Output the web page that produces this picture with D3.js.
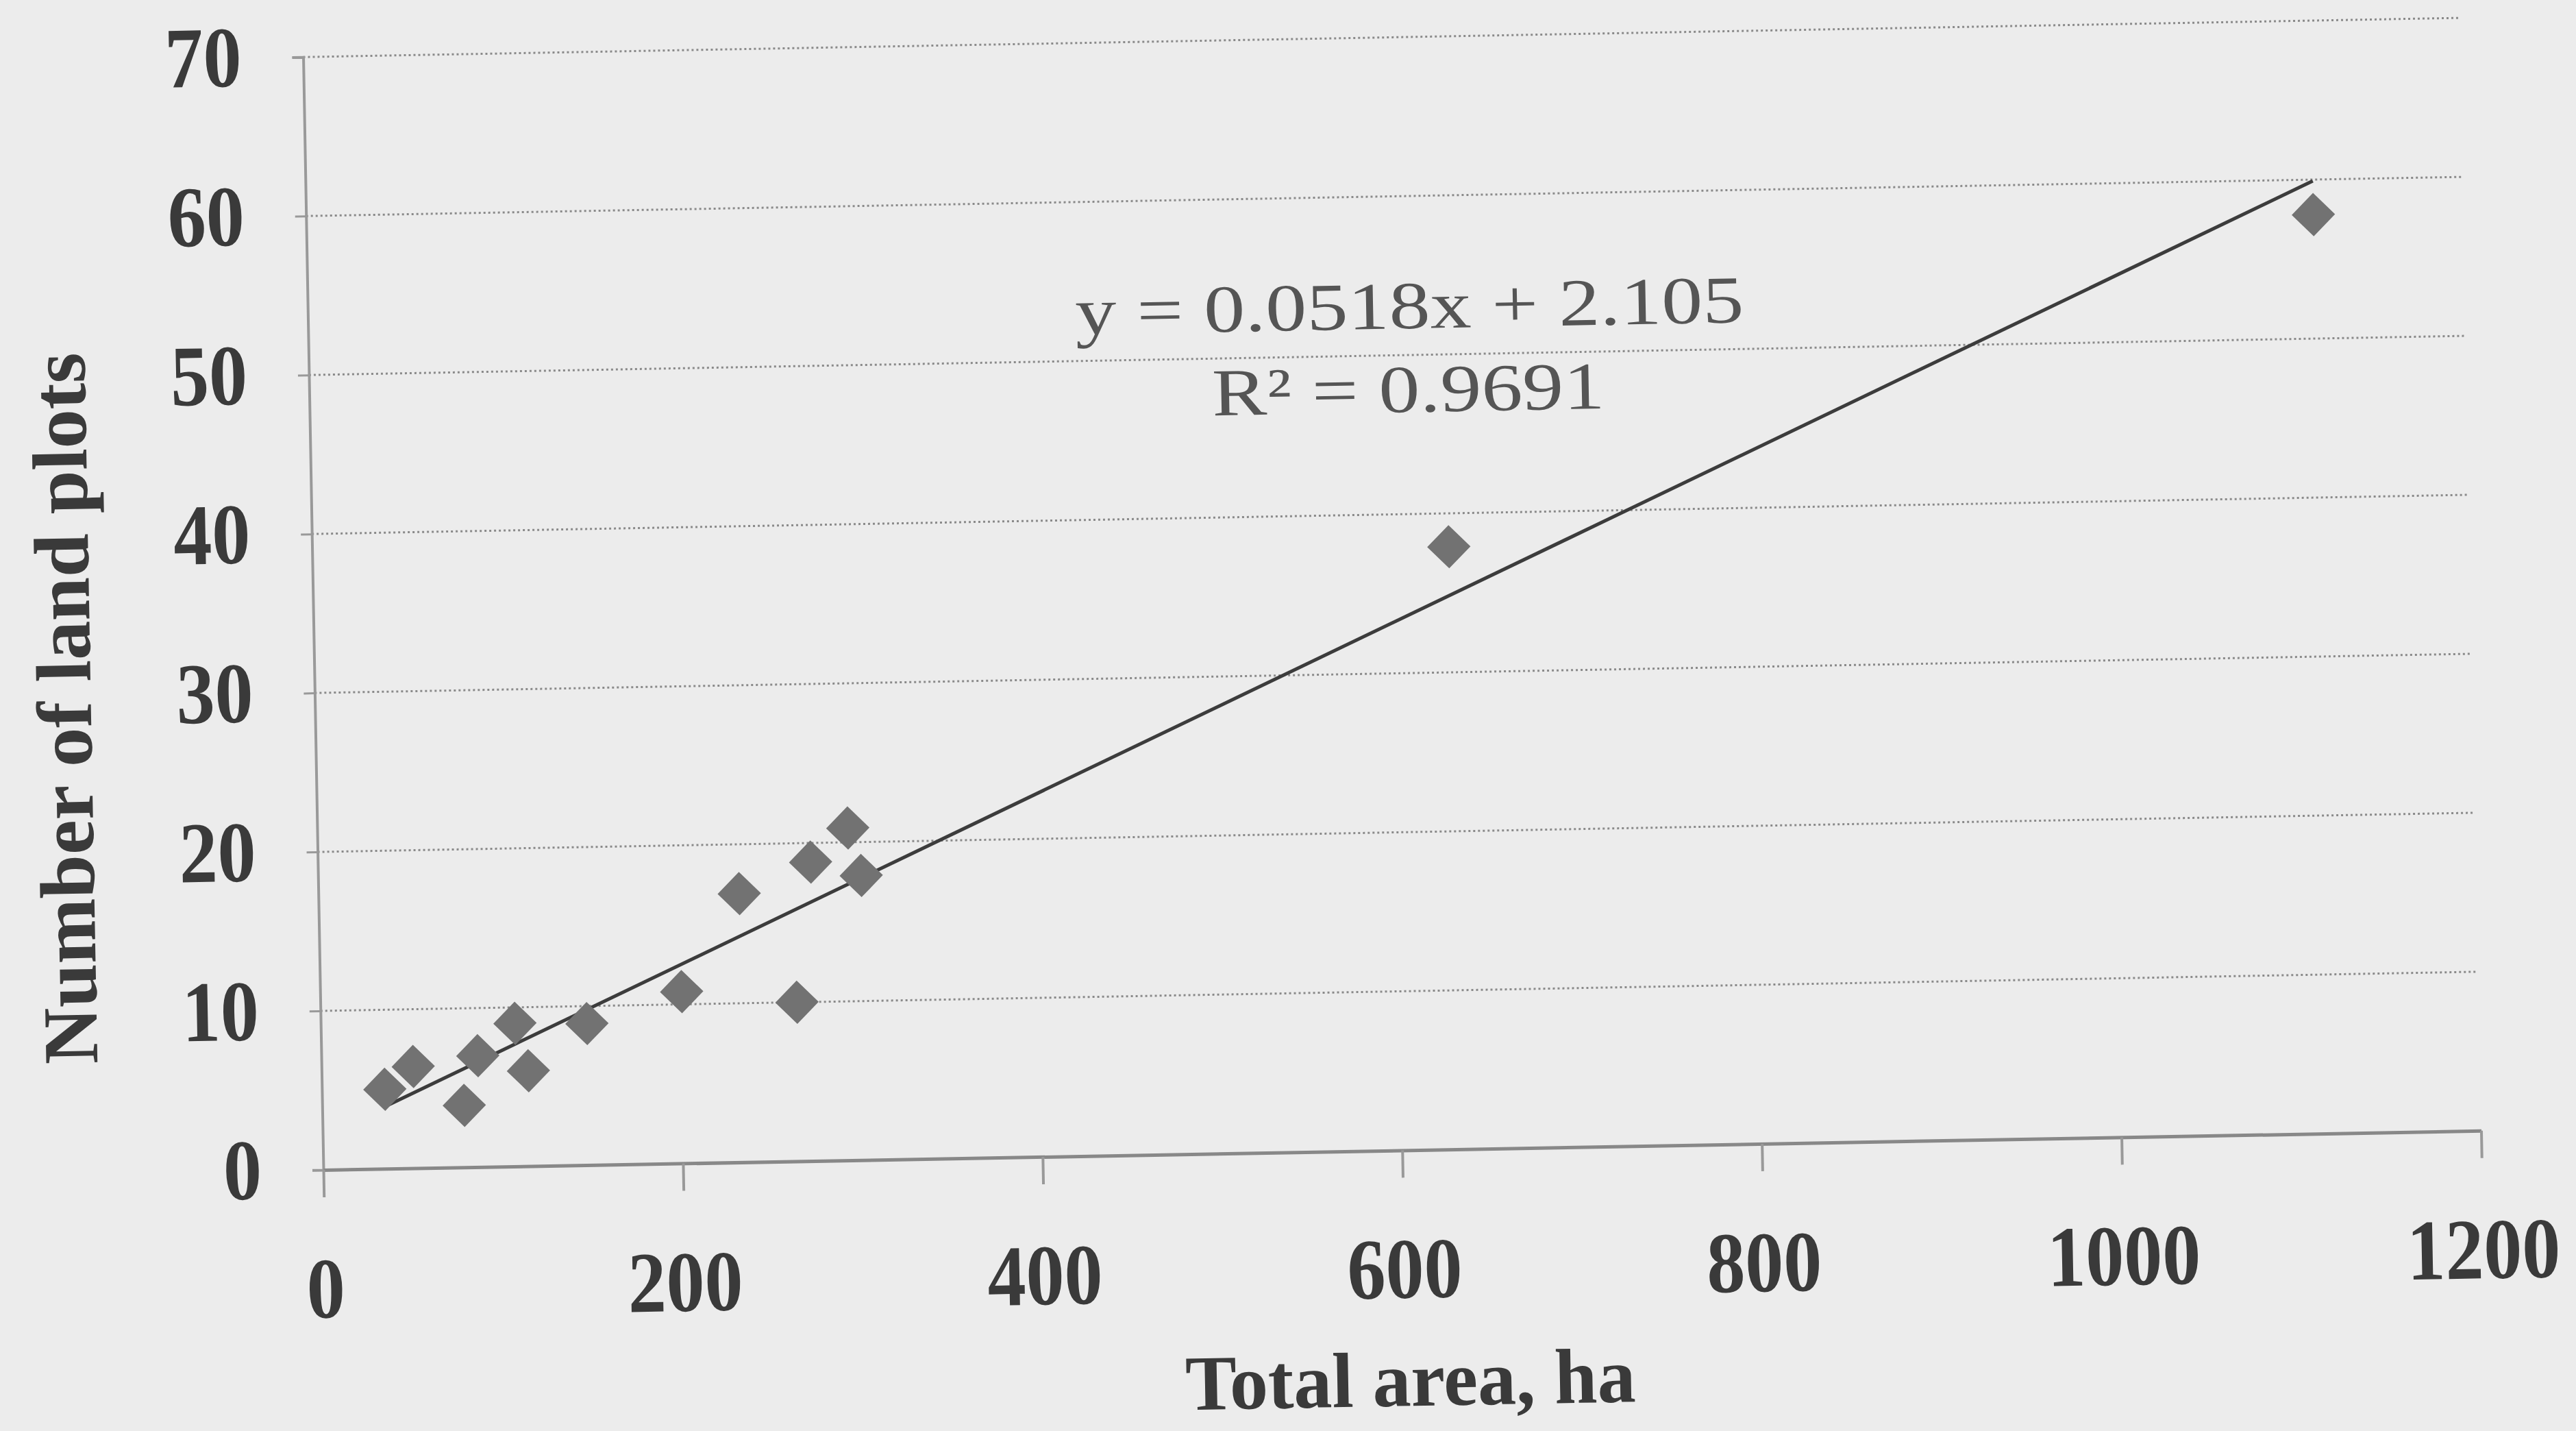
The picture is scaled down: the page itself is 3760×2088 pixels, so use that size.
<html>
<head>
    <style>
        body { margin: 0; background: #ececec; }
        .tick text {
            font-family: "Liberation Serif", "Times New Roman", serif;
            font-weight: bold;
            font-size: 126px;
            fill: #3a3a3a;
        }
        .axis-title {
            font-family: "Liberation Serif", "Times New Roman", serif;
            font-weight: bold;
            font-size: 114px;
            fill: #3a3a3a;
        }
        .eq {
            font-family: "Liberation Serif", "Times New Roman", serif;
            font-size: 98px;
            fill: #555;
        }
    </style>
    <script src="https://d3js.org/d3.v7.min.js"></script>
</head>
<body>
    <svg width="3760" height="2088"></svg>
    <script>
        // total area (ha) and number of land plots
        var totalArea  = [35, 51, 79, 87, 108, 115, 148, 201, 234, 265, 274, 295, 302, 632, 1116];
        var landPlots  = [5.0, 6.4, 3.9, 7.0, 9.0, 6.0, 8.9, 10.8, 16.9, 10.0, 18.8, 20.9, 17.9, 37.9, 57.8];
        var xTicks = [0, 200, 400, 600, 800, 1000, 1200];
        var yTicks = [0, 10, 20, 30, 40, 50, 60, 70];
        var slope = 0.0518, intercept = 2.105, r2 = 0.9691;

        var svg = d3.select("svg");

        // the scanned page is a little tilted
        var g = svg.append("g")
                   .attr("transform", "rotate(-1.04, 472, 1707)");

        var x = d3.scaleLinear().domain([0, 1200]).range([472, 3622]);
        var y = d3.scaleLinear().domain([0, 70]).range([1707, 83]);

        // dotted gridlines
        g.append("g")
         .selectAll("line")
         .data(yTicks.slice(1))
         .enter().append("line")
         .attr("x1", x(0)).attr("x2", x(1200))
         .attr("y1", function(d) { return y(d); })
         .attr("y2", function(d) { return y(d); })
         .attr("stroke", "#8a8a8a")
         .attr("stroke-width", 3)
         .attr("stroke-dasharray", "3,4");

        var yAxis = g.append("g")
                     .attr("transform", "translate(" + x(0) + ",0)")
                     .call(d3.axisLeft(y).tickValues(yTicks).tickFormat(d3.format("d"))
                             .tickSize(16).tickPadding(74));

        var xAxis = g.append("g")
                     .attr("transform", "translate(0," + y(0) + ")")
                     .call(d3.axisBottom(x).tickValues(xTicks).tickFormat(d3.format("d"))
                             .tickSize(40).tickSizeOuter(0).tickPadding(86));

        yAxis.select(".domain").attr("stroke", "#999").attr("stroke-width", 4);
        xAxis.select(".domain").attr("stroke", "#888").attr("stroke-width", 5);
        yAxis.selectAll(".tick line").attr("stroke", "#999").attr("stroke-width", 3);
        xAxis.selectAll(".tick line").attr("stroke", "#999").attr("stroke-width", 4);
        g.selectAll(".tick text")
         .attr("textLength", function(d) { return String(d).length * 56; })
         .attr("lengthAdjust", "spacingAndGlyphs");

        // linear trendline over the data range
        var xMin = d3.min(totalArea), xMax = d3.max(totalArea);
        g.append("line")
         .attr("x1", x(xMin)).attr("y1", y(slope * xMin + intercept))
         .attr("x2", x(xMax)).attr("y2", y(slope * xMax + intercept))
         .attr("stroke", "#3c3c3c")
         .attr("stroke-width", 5);

        // diamond markers
        var diamond = d3.symbol().type(d3.symbolSquare).size(2000);
        g.append("g")
         .selectAll("path")
         .data(totalArea.map(function(d, i) { return [d, landPlots[i]]; }))
         .enter().append("path")
         .attr("d", diamond)
         .attr("transform", function(d) {
             return "translate(" + x(d[0]) + "," + y(d[1]) + ") rotate(45)";
         })
         .attr("fill", "#727272");

        g.append("text")
         .attr("class", "eq")
         .attr("x", 2080).attr("y", 508)
         .attr("text-anchor", "middle")
         .attr("textLength", 976)
         .attr("lengthAdjust", "spacingAndGlyphs")
         .text("y = " + slope + "x + " + intercept);

        g.append("text")
         .attr("class", "eq")
         .attr("x", 2076).attr("y", 630)
         .attr("text-anchor", "middle")
         .attr("textLength", 573)
         .attr("lengthAdjust", "spacingAndGlyphs")
         .text("R\u00b2 = " + r2);

        g.append("text")
         .attr("class", "axis-title")
         .attr("x", 2053).attr("y", 2080)
         .attr("text-anchor", "middle")
         .attr("textLength", 657)
         .attr("lengthAdjust", "spacingAndGlyphs")
         .text("Total area, ha");

        g.append("text")
         .attr("class", "axis-title")
         .attr("transform", "translate(145,1027) rotate(-90)")
         .attr("text-anchor", "middle")
         .attr("textLength", 1038)
         .attr("lengthAdjust", "spacingAndGlyphs")
         .text("Number of land plots");
    </script>
</body>
</html>
